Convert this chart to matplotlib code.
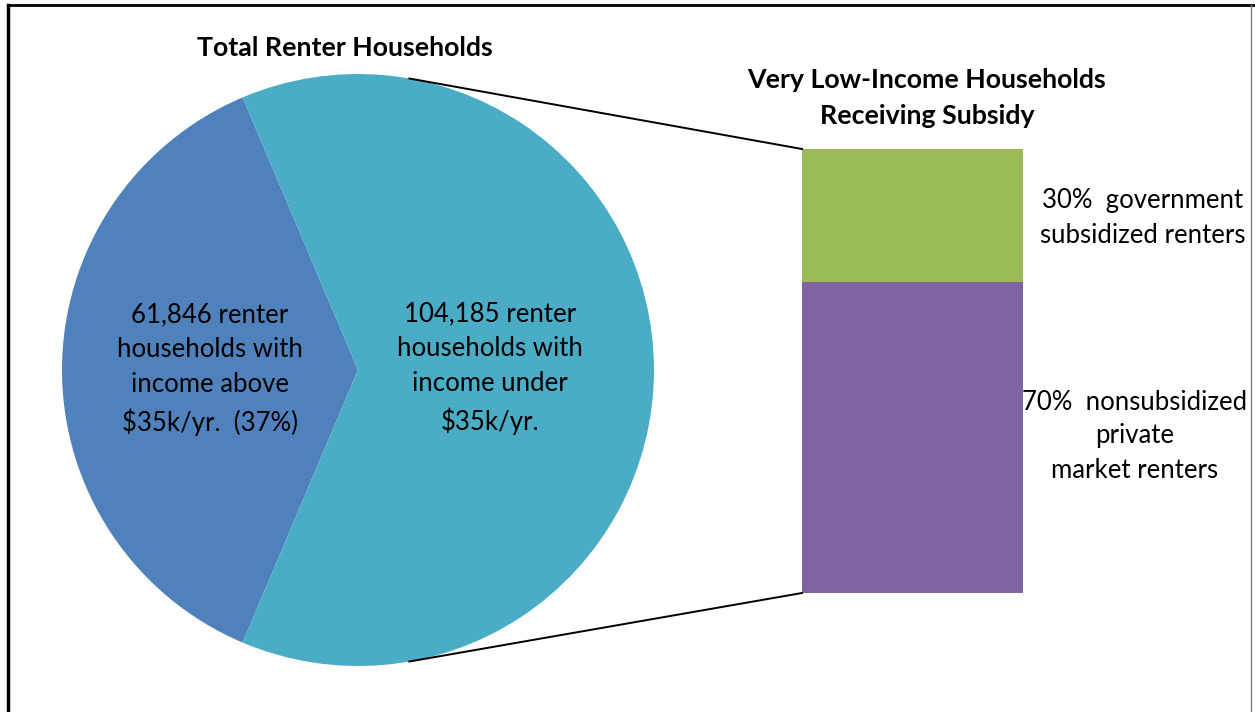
import matplotlib
matplotlib.use("Agg")
import matplotlib.pyplot as plt
import numpy as np

# ---- data ----
pie_labels = ["61,846 renter\nhouseholds with\nincome above\n$35k/yr.  (37%)",
              "104,185 renter\nhouseholds with\nincome under\n$35k/yr."]
pie_values = [61846, 104185]
pie_colors = ["#4F81BD", "#4BACC6"]

bar_labels = ["70%  nonsubsidized\nprivate\nmarket renters",
              "30%  government\nsubsidized renters"]
bar_values = [70, 30]
bar_colors = ["#8064A2", "#9BBB59"]

pie_title = "Total Renter Households"
bar_title = "Very Low-Income Households\nReceiving Subsidy"

FONT = ["Lato", "DejaVu Sans"]
W, H = 1255, 712
fig = plt.figure(figsize=(W / 100, H / 100), dpi=100)

def fbox(x0, y0, x1, y1):
    return [x0 / W, 1 - y1 / H, (x1 - x0) / W, (y1 - y0) / H]

# pie
cx, cy, r = 358, 370, 296
pax = fig.add_axes(fbox(cx - r, cy - r, cx + r, cy + r))
share0 = pie_values[0] / sum(pie_values) * 360
pax.pie(pie_values, colors=pie_colors, startangle=180 - share0 / 2,
        counterclock=True, radius=1, wedgeprops=dict(linewidth=0))
pax.set_xlim(-1, 1)
pax.set_ylim(-1, 1)
pax.set_aspect("equal")
pax.axis("off")

# bar
bx0, by0, bx1, by1 = 802, 149, 1023, 593
bax = fig.add_axes(fbox(bx0, by0, bx1, by1))
bottom = 0
for v, c in zip(bar_values, bar_colors):
    bax.bar(0, v, bottom=bottom, width=1, color=c, linewidth=0)
    bottom += v
bax.set_xlim(-0.5, 0.5)
bax.set_ylim(0, sum(bar_values))
bax.axis("off")

# overlay axes in pixel coordinates (on top)
ov = fig.add_axes([0, 0, 1, 1], zorder=10)
ov.set_xlim(0, W)
ov.set_ylim(H, 0)
ov.patch.set_alpha(0)
ov.axis("off")

# connector lines
ang = np.deg2rad(80)
px = cx + r * np.cos(ang)
ov.plot([px, bx0], [cy - r * np.sin(ang), by0], color="black", lw=1.4)
ov.plot([px, bx0], [cy + r * np.sin(ang), by1], color="black", lw=1.4)

# titles
ov.text(345, 48, pie_title, ha="center", va="center", fontsize=19.3,
        fontweight="bold", family=FONT)
ov.text(927, 98, bar_title, ha="center", va="center", fontsize=19.3,
        fontweight="bold", family=FONT, linespacing=1.55)

# pie labels
ov.text(210, 369, pie_labels[0], ha="center", va="center", fontsize=18.5,
        family=FONT, linespacing=1.5)
ov.text(490, 368, pie_labels[1], ha="center", va="center", fontsize=18.5,
        family=FONT, linespacing=1.5)

# bar labels
ov.text(1143, 218, bar_labels[1], ha="center", va="center", fontsize=18.5,
        family=FONT, linespacing=1.5)
ov.text(1135, 436, bar_labels[0], ha="center", va="center", fontsize=18.5,
        family=FONT, linespacing=1.45)

# frame
ov.plot([8, W], [5, 5], color="black", lw=2)
ov.plot([8, 8], [5, H], color="black", lw=2.5)
ov.plot([1251, 1251], [5, H], color="#808080", lw=1)

fig.savefig("out.png", dpi=100)
